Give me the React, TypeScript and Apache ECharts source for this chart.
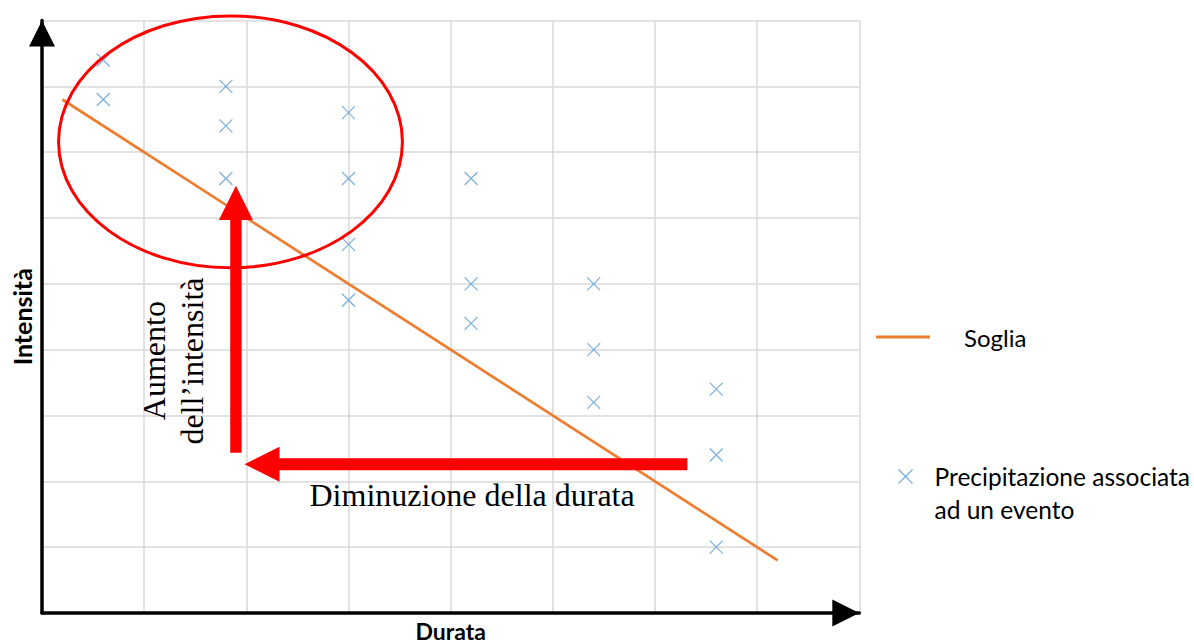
import React, { useEffect, useRef } from 'react';
import * as echarts from 'echarts';

// Event rainfall points (duration, intensity) in arbitrary chart units
const eventDurata = [0.6, 0.6, 1.8, 1.8, 1.8, 3.0, 3.0, 3.0, 3.0, 4.2, 4.2, 4.2, 5.4, 5.4, 5.4, 6.6, 6.6, 6.6];
const eventIntensita = [8.4, 7.8, 8.0, 7.4, 6.6, 7.6, 6.6, 5.6, 4.75, 6.6, 5.0, 4.4, 5.0, 4.0, 3.2, 3.4, 2.4, 1.0];

// Threshold line endpoints
const sogliaDurata = [0.2, 7.2];
const sogliaIntensita = [7.8, 0.8];

const seriesNames = ['Soglia', 'Precipitazione associata\nad un evento'];
const axisNames = ['Durata', 'Intensità'];
const noteTexts = ['Aumento', 'dell\u2019intensità', 'Diminuzione della durata'];

// Annotation anchors (data units)
const ellipseCenter = [1.845, 7.157];
const ellipseCorner = [3.528, 9.07];
const upArrow = { x: 1.898, bottom: 2.434, base: 5.968, tip: 6.489 };
const leftArrow = { y: 2.258, tip: 1.982, base: 2.325, end: 6.317 };
const noteAnchors = [
  [1.098, 3.834],
  [1.471, 3.827],
  [4.21, 1.792],
];

export default function App() {
  const ref = useRef<HTMLDivElement>(null);
  useEffect(() => {
    const chart = echarts.init(ref.current!, null, { renderer: 'svg' });
    const SANS = 'Lato, "Open Sans", sans-serif';
    const SERIF = '"Liberation Serif", "Times New Roman", serif';
    const gridColor = '#D9D9D9';
    const blue = '#5B9BD5';
    const orange = '#ED7D31';
    const cross = 'path://M0,0L10,10M10,0L0,10';

    const scatterData = eventDurata.map((x, i) => [x, eventIntensita[i]]);
    const sogliaData = sogliaDurata.map((x, i) => [x, sogliaIntensita[i]]);

    chart.setOption({
      animation: false,
      grid: { left: 42, top: 20.5, width: 817.3, height: 592.5, containLabel: false, outerBoundsMode: 'none' },
      xAxis: {
        type: 'value', min: 0, max: 8, interval: 1,
        name: axisNames[0], nameLocation: 'middle', nameGap: 6,
        nameTextStyle: { fontFamily: SANS, fontWeight: 'bold', fontSize: 23, color: '#000', lineHeight: 23 },
        axisLine: { show: true, onZero: false, symbol: ['none', 'triangle'], symbolSize: [27, 27], symbolOffset: [0, -13.5], lineStyle: { color: '#000', width: 3.5 } },
        axisTick: { show: false }, axisLabel: { show: false },
        splitLine: { show: true, lineStyle: { color: gridColor, width: 1.5 } },
      },
      yAxis: {
        type: 'value', min: 0, max: 9, interval: 1,
        name: axisNames[1], nameLocation: 'middle', nameGap: 8, nameRotate: 90,
        nameTextStyle: { fontFamily: SANS, fontWeight: 'bold', fontSize: 25, color: '#000' },
        axisLine: { show: true, onZero: false, symbol: ['none', 'triangle'], symbolSize: [26, 26], symbolOffset: [0, -13], lineStyle: { color: '#000', width: 3.5 } },
        axisTick: { show: false }, axisLabel: { show: false },
        splitLine: { show: true, lineStyle: { color: gridColor, width: 1.5 } },
      },
      legend: [
        {
          data: [seriesNames[0]], left: 876, top: 322, padding: 0, selectedMode: false,
          icon: 'rect', itemWidth: 54, itemHeight: 3,
          itemStyle: { color: orange },
          textStyle: { fontFamily: SANS, fontSize: 24, color: '#000', lineHeight: 30, padding: [0, 0, 0, 29] },
        },
        {
          data: [seriesNames[1]], left: 896, top: 427, padding: 0, selectedMode: false,
          icon: cross, itemWidth: 14, itemHeight: 14,
          formatter: (name: string) => '\n' + name,
          itemStyle: { color: 'none', borderColor: blue, borderWidth: 1.3 },
          textStyle: { fontFamily: SANS, fontSize: 24.5, color: '#000', lineHeight: 33, padding: [0, 0, 0, 17] },
        },
      ],
      series: [
        {
          name: seriesNames[0], type: 'line', data: sogliaData, symbol: 'none',
          lineStyle: { color: orange, width: 2.7 }, itemStyle: { color: orange }, z: 3,
        },
        {
          name: seriesNames[1], type: 'scatter', data: scatterData, symbol: cross, symbolSize: 13,
          itemStyle: { color: blue, borderColor: blue, borderWidth: 1.2 }, z: 2,
        },
      ],
    });

    const P = (x: number, y: number) => chart.convertToPixel({ gridIndex: 0 }, [x, y]) as number[];
    const c = P(ellipseCenter[0], ellipseCenter[1]);
    const e = P(ellipseCorner[0], ellipseCorner[1]);
    const ub = P(upArrow.x, upArrow.bottom);
    const ubase = P(upArrow.x, upArrow.base);
    const utip = P(upArrow.x, upArrow.tip);
    const lt = P(leftArrow.tip, leftArrow.y);
    const lb = P(leftArrow.base, leftArrow.y);
    const le = P(leftArrow.end, leftArrow.y);
    const red = '#FF0000';
    const sw = 5.7, hw = 17;
    const lsw = 6, lhw = 17.5;
    const n = noteAnchors.map((a) => P(a[0], a[1]));
    const textStyle = (t: string) => ({
      text: t, fontFamily: SERIF, fontSize: 32, fill: '#000',
      align: 'center', verticalAlign: 'middle', textAlign: 'center', textVerticalAlign: 'middle',
    });

    chart.setOption({
      graphic: [
        {
          type: 'ellipse', shape: { cx: c[0], cy: c[1], rx: e[0] - c[0], ry: c[1] - e[1] },
          style: { fill: 'none', stroke: red, lineWidth: 3 }, z: 10,
        },
        {
          type: 'polygon', z: 10,
          shape: {
            points: [
              [ub[0] - sw, ub[1]], [ub[0] + sw, ub[1]], [ub[0] + sw, ubase[1]], [ub[0] + hw, ubase[1]],
              [utip[0], utip[1]], [ub[0] - hw, ubase[1]], [ub[0] - sw, ubase[1]],
            ],
          },
          style: { fill: red },
        },
        {
          type: 'polygon', z: 10,
          shape: {
            points: [
              [le[0], le[1] - lsw], [le[0], le[1] + lsw], [lb[0], lb[1] + lsw], [lb[0], lb[1] + lhw],
              [lt[0], lt[1]], [lb[0], lb[1] - lhw], [lb[0], lb[1] - lsw],
            ],
          },
          style: { fill: red },
        },
        { type: 'text', x: n[0][0], y: n[0][1], rotation: Math.PI / 2, style: textStyle(noteTexts[0]), z: 11 },
        { type: 'text', x: n[1][0], y: n[1][1], rotation: Math.PI / 2, style: textStyle(noteTexts[1]), z: 11 },
        { type: 'text', x: n[2][0], y: n[2][1], style: textStyle(noteTexts[2]), z: 11 },
      ],
    });

    return () => chart.dispose();
  }, []);
  return <div ref={ref} style={{ position: 'absolute', left: 0, top: 0, width: 1194, height: 644 }} />;
}
